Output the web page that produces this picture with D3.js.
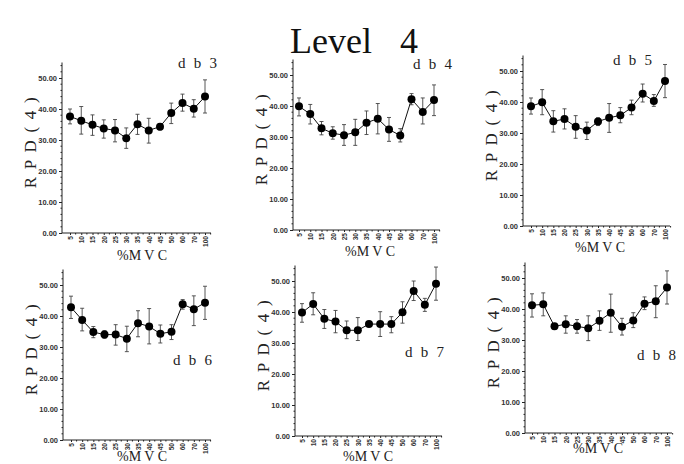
<!DOCTYPE html>
<html>
<head>
<meta charset="utf-8">
<script src="https://cdn.jsdelivr.net/npm/d3@7"></script>
<style>
  body { margin: 0; background: #fff; }
  svg { display: block; }
  .tick text { font-family: "Liberation Sans", Arial, sans-serif; font-size: 7.5px; font-weight: bold; fill: #333; }
  .xax .tick text { font-size: 6.6px; }
  .domain, .tick line { stroke: #222; }
</style>
</head>
<body>
<svg id="fig" width="684" height="464"></svg>
<script>
// categories (%MVC)
const mvc = ["5","10","15","20","25","30","35","40","45","50","60","70","100"];
const yTicks = [0, 10, 20, 30, 40, 50];

// db3
const db3Mean = [37.6, 36.2, 34.9, 33.7, 33.1, 30.6, 35.1, 33.1, 34.3, 38.7, 41.9, 40.1, 44.0];
const db3Hi   = [40.0, 40.8, 38.1, 36.5, 36.6, 33.9, 38.3, 37.0, 35.2, 41.9, 44.8, 43.0, 49.4];
const db3Lo   = [35.2, 31.9, 31.5, 30.6, 29.4, 27.3, 31.8, 29.0, 33.3, 35.3, 39.3, 37.4, 38.7];
// db4
const db4Mean = [39.9, 37.4, 32.8, 31.2, 30.6, 31.5, 34.6, 35.9, 32.4, 30.5, 42.2, 38.1, 41.9];
const db4Hi   = [42.6, 40.5, 35.0, 33.3, 34.0, 35.7, 38.4, 40.8, 36.3, 32.7, 44.0, 42.6, 46.8];
const db4Lo   = [36.8, 34.2, 30.7, 29.3, 27.3, 27.3, 30.8, 31.0, 28.6, 28.4, 40.4, 34.2, 36.9];
// db5
const db5Mean = [38.6, 39.9, 33.8, 34.5, 32.0, 30.8, 33.7, 34.9, 35.7, 38.2, 42.7, 40.3, 46.8];
const db5Hi   = [41.3, 44.0, 37.2, 37.8, 35.6, 33.5, 34.9, 39.5, 38.2, 40.6, 45.8, 42.4, 52.1];
const db5Lo   = [36.1, 35.9, 30.3, 31.3, 28.3, 27.9, 32.4, 30.2, 33.3, 35.9, 40.0, 38.6, 41.4];
// db6
const db6Mean = [42.8, 38.7, 34.8, 34.0, 34.0, 32.7, 37.7, 36.6, 34.3, 34.9, 43.8, 42.2, 44.3];
const db6Hi   = [46.4, 42.5, 36.6, 35.3, 37.2, 36.7, 41.7, 42.4, 37.1, 37.2, 45.3, 46.5, 49.6];
const db6Lo   = [39.2, 35.2, 33.0, 32.8, 30.6, 28.5, 33.3, 31.0, 31.3, 32.4, 42.2, 36.9, 38.9];
// db7
const db7Mean = [39.8, 42.6, 37.8, 36.9, 34.1, 34.1, 36.1, 36.1, 36.1, 39.9, 46.8, 42.3, 49.1];
const db7Hi   = [42.7, 46.2, 40.8, 40.5, 37.1, 38.2, 36.6, 40.1, 38.5, 43.3, 50.0, 44.4, 54.5];
const db7Lo   = [36.7, 39.1, 34.7, 33.3, 31.4, 30.8, 35.5, 32.1, 33.3, 36.4, 43.7, 40.2, 43.8];
// db8
const db8Mean = [41.2, 41.5, 34.4, 35.1, 34.4, 33.8, 36.2, 38.8, 34.3, 36.3, 41.7, 42.5, 46.9];
const db8Hi   = [44.9, 45.2, 35.3, 37.8, 36.6, 37.8, 39.4, 44.8, 37.0, 38.8, 43.9, 47.5, 52.3];
const db8Lo   = [37.4, 37.8, 33.4, 32.2, 32.2, 29.8, 33.1, 32.5, 31.6, 34.0, 39.8, 37.2, 41.6];

const panelNames = ["d b 3", "d b 4", "d b 5", "d b 6", "d b 7", "d b 8"];
const panelData = [
  [db3Mean, db3Hi, db3Lo], [db4Mean, db4Hi, db4Lo], [db5Mean, db5Hi, db5Lo],
  [db6Mean, db6Hi, db6Lo], [db7Mean, db7Hi, db7Lo], [db8Mean, db8Hi, db8Lo]
];

// layout for each panel: axis x, y of 0, y of 50, first/last point x, axis end, name pos, xlabel pos
const layout = [
  {ax: 62,  y0: 233, y50: 78,  x1: 70,  x2: 205, xEnd: 211, nx: 178, ny: 68,  lx: 142, ly: 260},
  {ax: 293, y0: 230, y50: 75,  x1: 299, x2: 434, xEnd: 440, nx: 413, ny: 69,  lx: 370, ly: 256},
  {ax: 523, y0: 226, y50: 71,  x1: 531, x2: 665, xEnd: 670, nx: 613, ny: 65,  lx: 600, ly: 252},
  {ax: 63,  y0: 440, y50: 285, x1: 71,  x2: 205, xEnd: 211, nx: 173, ny: 365, lx: 142, ly: 461},
  {ax: 295, y0: 436, y50: 281, x1: 302, x2: 436, xEnd: 442, nx: 405, ny: 357, lx: 368, ly: 461},
  {ax: 525, y0: 433, y50: 278, x1: 532, x2: 667, xEnd: 672, nx: 637, ny: 360, lx: 598, ly: 453}
];

const svg = d3.select("#fig");
const serif = '"Liberation Serif", "DejaVu Serif", serif';

// title
svg.append("text").attr("x", 290).attr("y", 53)
  .attr("font-family", serif).attr("font-size", 36).attr("fill", "#111").text("Level");
svg.append("text").attr("x", 400).attr("y", 53)
  .attr("font-family", serif).attr("font-size", 36).attr("fill", "#111").text("4");

panelData.forEach((d, i) => {
  const L = layout[i];
  const [mean, hi, lo] = d;
  const g = svg.append("g");

  const x = d3.scalePoint().domain(mvc).range([L.x1, L.x2]);
  const y = d3.scaleLinear().domain([0, 50]).range([L.y0, L.y50]);

  // y axis
  g.append("g").attr("transform", `translate(${L.ax},0)`)
    .call(d3.axisLeft(y).tickValues(yTicks).tickFormat(d3.format(".2f")).tickSize(3).tickPadding(2).tickSizeOuter(0))
    .call(a => a.select(".domain").attr("d", `M0,${y(55)}V${L.y0}`));
  // minor y ticks
  g.append("g").selectAll("line")
    .data(d3.range(2, 55, 2).filter(v => v % 10 !== 0))
    .join("line")
    .attr("x1", L.ax - 1.5).attr("x2", L.ax)
    .attr("y1", v => y(v)).attr("y2", v => y(v))
    .attr("stroke", "#222");

  // x axis
  const xa = g.append("g").attr("class", "xax").attr("transform", `translate(0,${L.y0})`)
    .call(d3.axisBottom(x).tickSize(2).tickSizeOuter(0));
  xa.select(".domain").attr("d", `M${L.ax},0H${L.xEnd}`);
  xa.selectAll(".tick text")
    .attr("transform", "rotate(-90)")
    .attr("text-anchor", "end")
    .attr("dy", "0.35em")
    .attr("x", -3).attr("y", 0);
  // minor x ticks
  const step = x.step();
  g.append("g").selectAll("line")
    .data(mvc)
    .join("line")
    .attr("x1", c => x(c) + step / 2).attr("x2", c => x(c) + step / 2)
    .attr("y1", L.y0).attr("y2", L.y0 + 1.5)
    .attr("stroke", "#222");

  // error bars
  const eb = g.append("g").attr("stroke", "#444").attr("stroke-width", 0.9);
  eb.selectAll("line.v").data(mvc).join("line").attr("class", "v")
    .attr("x1", (c) => x(c)).attr("x2", (c) => x(c))
    .attr("y1", (c, j) => y(hi[j])).attr("y2", (c, j) => y(lo[j]));
  eb.selectAll("line.h").data(mvc).join("line").attr("class", "h")
    .attr("x1", c => x(c) - 2).attr("x2", c => x(c) + 2)
    .attr("y1", (c, j) => y(hi[j])).attr("y2", (c, j) => y(hi[j]));
  eb.selectAll("line.l").data(mvc).join("line").attr("class", "l")
    .attr("x1", c => x(c) - 2).attr("x2", c => x(c) + 2)
    .attr("y1", (c, j) => y(lo[j])).attr("y2", (c, j) => y(lo[j]));

  // line
  g.append("path")
    .datum(mean)
    .attr("fill", "none").attr("stroke", "#111").attr("stroke-width", 1)
    .attr("d", d3.line().x((v, j) => x(mvc[j])).y(v => y(v)));

  // points
  g.append("g").selectAll("circle").data(mean).join("circle")
    .attr("cx", (v, j) => x(mvc[j])).attr("cy", v => y(v))
    .attr("r", 4).attr("fill", "#000");

  // y label
  const ly = (L.y0 + y(55)) / 2 - 5;
  g.append("text")
    .attr("transform", `translate(${L.ax - 32},${ly}) rotate(-90)`)
    .attr("text-anchor", "middle").attr("dominant-baseline", "central")
    .attr("font-family", serif).attr("font-size", 17).attr("fill", "#222")
    .attr("textLength", 91).attr("lengthAdjust", "spacing")
    .text("R P D ( 4 )");

  // x label
  g.append("text")
    .attr("x", L.lx - 25).attr("y", L.ly)
    .attr("font-family", serif).attr("font-size", 14).attr("fill", "#222")
    .attr("textLength", 50).attr("lengthAdjust", "spacing")
    .text("%M V C");

  // panel name
  g.append("text")
    .attr("x", L.nx).attr("y", L.ny)
    .attr("font-family", serif).attr("font-size", 15).attr("fill", "#222")
    .attr("textLength", 39).attr("lengthAdjust", "spacing")
    .text(panelNames[i]);
});
</script>
</body>
</html>
